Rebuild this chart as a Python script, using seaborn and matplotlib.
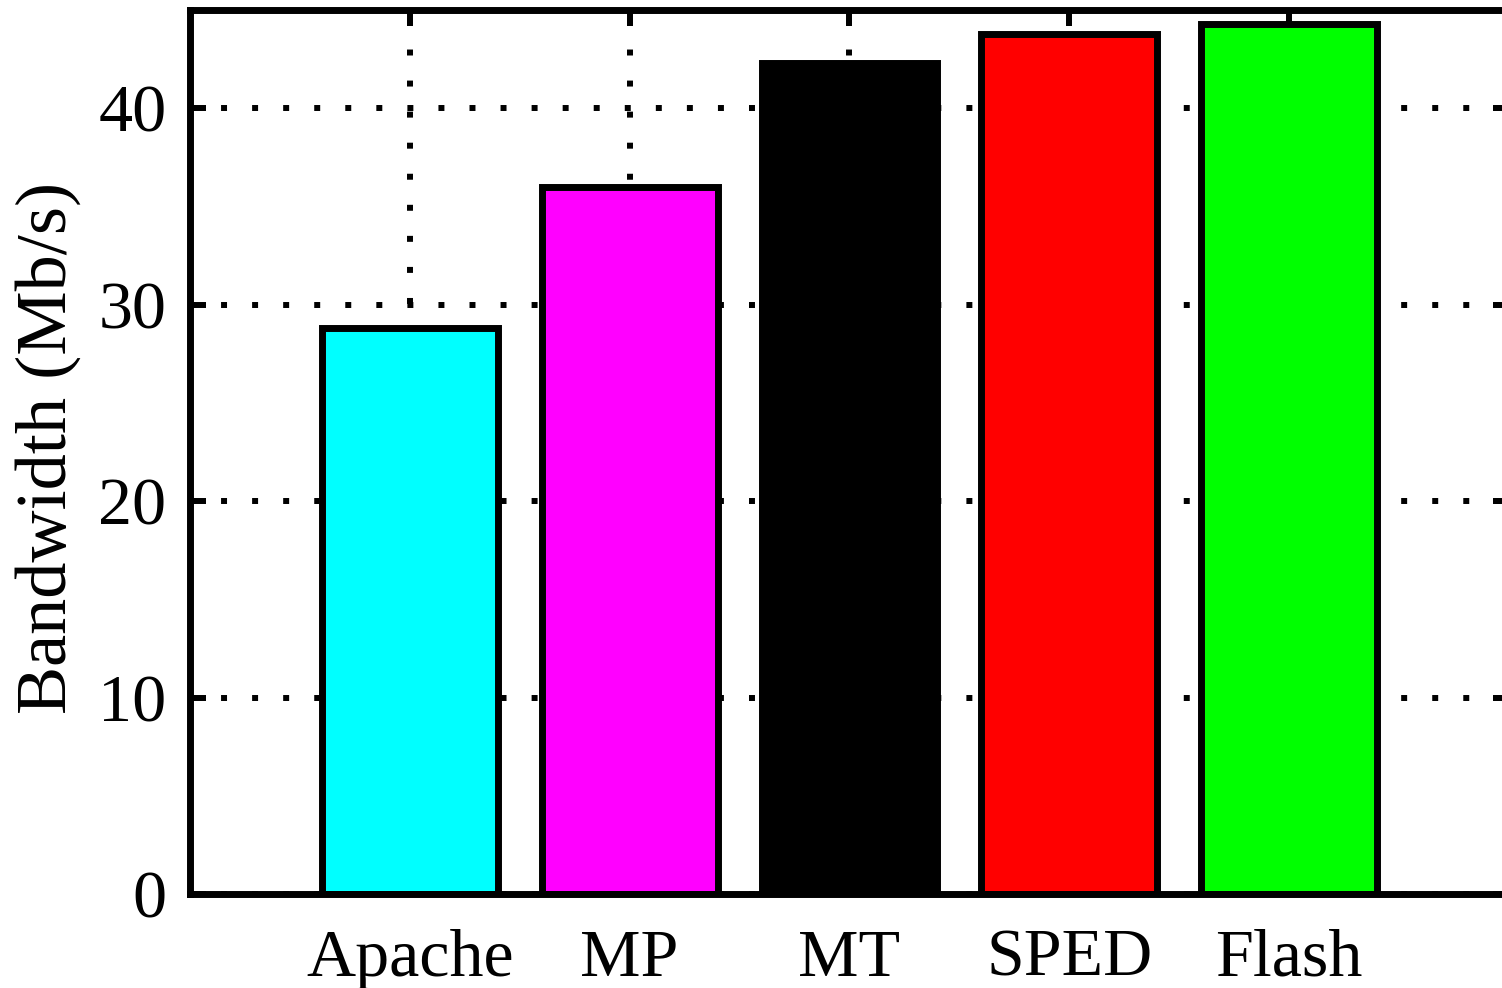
import matplotlib
matplotlib.use("Agg")
import matplotlib.pyplot as plt
import seaborn as sns
import pandas as pd

categories = ["Apache", "MP", "MT", "SPED", "Flash"]
bandwidth = [28.8, 36.0, 42.3, 43.8, 44.3]
bar_colors = ["#00FFFF", "#FF00FF", "#000000", "#FF0000", "#00FF00"]
y_ticks = [0, 10, 20, 30, 40]

sns.set_style("white")
plt.rcParams["font.family"] = ["Liberation Serif", "DejaVu Serif"]

df = pd.DataFrame({"server": categories, "bw": bandwidth})

fig = plt.figure(figsize=(15.02, 9.88), dpi=100)
ax_w = (1509 - 190) / 1502
ax = fig.add_axes([190 / 1502, 1 - 894 / 988, ax_w, (894 - 10) / 988])

sns.barplot(data=df, x="server", y="bw", hue="server", palette=bar_colors,
            legend=False, width=0.8, edgecolor="black", linewidth=5,
            saturation=1, ax=ax)

ax.set_xlim(-1, 5)
ax.set_ylim(0, 45)
ax.set_yticks(y_ticks)
ax.set_yticklabels([str(t) for t in y_ticks])
ax.set_xlabel("")
ax.set_ylabel("Bandwidth (Mb/s)", fontsize=52, color="black")
ax.yaxis.set_label_coords(-0.083, 0.505)

ax.set_axisbelow(True)
ax.grid(True, axis="both", color="black", linewidth=4.3,
        linestyle=(0, (1, 4.2)), dash_capstyle="butt")

for s in ["left", "bottom", "top"]:
    ax.spines[s].set_visible(True)
    ax.spines[s].set_color("black")
    ax.spines[s].set_linewidth(5)
ax.spines["right"].set_visible(False)

ax.tick_params(axis="both", which="major", direction="in", length=11.5,
               width=4.3, color="black", labelsize=49, labelcolor="black",
               top=True, bottom=True, left=True, right=True)
ax.tick_params(axis="x", pad=25)
ax.tick_params(axis="y", pad=17)

fig.savefig("out.png", dpi=100)
